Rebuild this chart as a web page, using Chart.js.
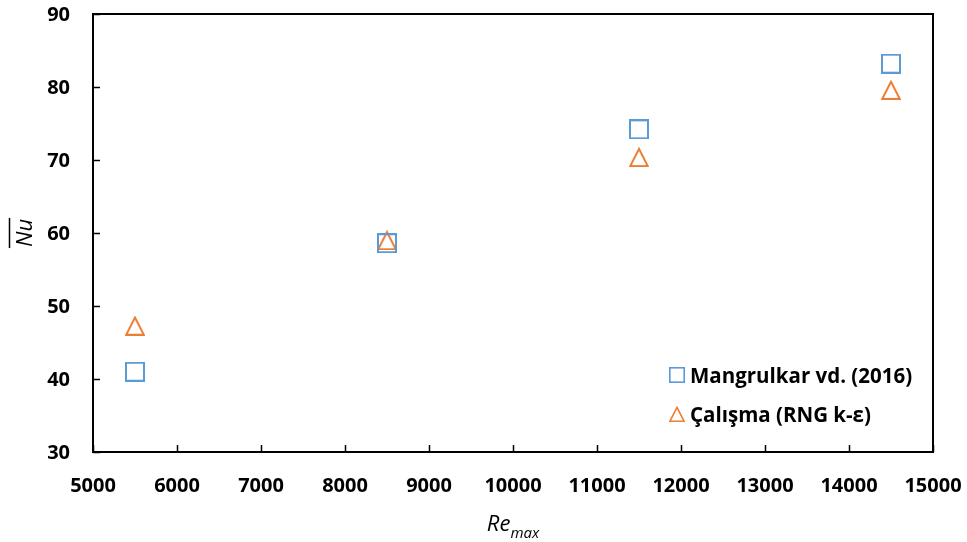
<!DOCTYPE html>
<html>
<head>
<meta charset="utf-8">
<script src="https://cdn.jsdelivr.net/npm/chart.js@4.4.1/dist/chart.umd.min.js"></script>
<style>
  html, body { margin: 0; padding: 0; background: #fff; }
  #wrap { width: 967px; height: 542px; position: relative; }
</style>
</head>
<body>
<div id="wrap"><canvas id="c"></canvas></div>
<script>
// Reynolds numbers and mean Nusselt numbers
const reValues = [5500, 8500, 11500, 14500];
const nuMangrulkar = [41.0, 58.6, 74.2, 83.2];
const nuCalisma = [47.3, 59.0, 70.4, 79.6];
const seriesLabels = ['Mangrulkar vd. (2016)', 'Çalışma (RNG k-ε)'];
const xTicks = [5000, 6000, 7000, 8000, 9000, 10000, 11000, 12000, 13000, 14000, 15000];
const yTicks = [30, 40, 50, 60, 70, 80, 90];

const BLUE = '#5B9BD5';
const ORANGE = '#ED7D31';
const FONT = '"Open Sans", "DejaVu Sans", sans-serif';
const TICK_FONT = 'bold 20px ' + FONT;

function squareMarker(size, color, lw) {
  const c = document.createElement('canvas');
  c.width = size; c.height = size;
  const g = c.getContext('2d');
  g.strokeStyle = color; g.lineWidth = lw;
  g.strokeRect(lw / 2, lw / 2, size - lw, size - lw);
  return c;
}
function triangleMarker(size, color, lw) {
  const c = document.createElement('canvas');
  c.width = size; c.height = size;
  const g = c.getContext('2d');
  g.strokeStyle = color; g.lineWidth = lw; g.lineJoin = 'miter';
  g.beginPath();
  g.moveTo(size / 2, lw * 0.9);
  g.lineTo(size - lw * 0.6, size - lw / 2);
  g.lineTo(lw * 0.6, size - lw / 2);
  g.closePath();
  g.stroke();
  return c;
}

const sqBig = squareMarker(20, BLUE, 2);
const triBig = triangleMarker(20, ORANGE, 2);
const sqSmall = squareMarker(16, BLUE, 1.6);
const triSmall = triangleMarker(16, ORANGE, 1.6);

function toPoints(ys) { return reValues.map((x, i) => ({ x: x, y: ys[i] })); }

// Frame, inward tick marks, tick labels, axis titles and in-plot legend
const decorations = {
  id: 'decorations',
  afterDraw(chart) {
    const { ctx, chartArea: a, scales } = chart;
    ctx.save();
    ctx.strokeStyle = '#000';
    ctx.lineWidth = 2;
    ctx.strokeRect(a.left, a.top, a.right - a.left, a.bottom - a.top);

    ctx.lineWidth = 1.5;
    ctx.beginPath();
    xTicks.forEach(v => {
      const px = Math.round(scales.x.getPixelForValue(v)) + 0.5;
      ctx.moveTo(px, a.bottom); ctx.lineTo(px, a.bottom - 7);
    });
    yTicks.forEach(v => {
      const py = Math.round(scales.y.getPixelForValue(v)) + 0.5;
      ctx.moveTo(a.left, py); ctx.lineTo(a.left + 7, py);
    });
    ctx.stroke();

    // tick labels
    ctx.fillStyle = '#000';
    ctx.font = TICK_FONT;
    ctx.textBaseline = 'alphabetic';
    ctx.textAlign = 'center';
    xTicks.forEach(v => {
      ctx.fillText(String(v), scales.x.getPixelForValue(v), a.bottom + 40);
    });
    ctx.textAlign = 'right';
    yTicks.forEach(v => {
      ctx.fillText(String(v), a.left - 23, scales.y.getPixelForValue(v) + 7);
    });

    // x-axis title: Re with subscript "max"
    ctx.textAlign = 'left';
    ctx.font = 'italic 22px ' + FONT;
    const reW = ctx.measureText('Re').width;
    ctx.font = 'italic 15px ' + FONT;
    const subW = ctx.measureText('max').width;
    const xStart = 513 - (reW + subW) / 2;
    ctx.font = 'italic 22px ' + FONT;
    ctx.fillText('Re', xStart, 531);
    ctx.font = 'italic 15px ' + FONT;
    ctx.fillText('max', xStart + reW, 538);

    // y-axis title: Nu with overline, rotated
    ctx.save();
    ctx.translate(32, 233);
    ctx.rotate(-Math.PI / 2);
    ctx.font = 'italic 22px ' + FONT;
    ctx.textAlign = 'center';
    const nuW = ctx.measureText('Nu').width;
    ctx.fillText('Nu', 0, 0);
    ctx.lineWidth = 1.5;
    ctx.beginPath();
    ctx.moveTo(-nuW / 2 - 1, -22.5); ctx.lineTo(nuW / 2 + 1, -22.5);
    ctx.stroke();
    ctx.restore();

    // legend
    ctx.font = 'bold 20.5px ' + FONT;
    ctx.textAlign = 'left';
    ctx.textBaseline = 'alphabetic';
    ctx.drawImage(sqSmall, 669, 367);
    ctx.fillText(seriesLabels[0], 690, 383);
    ctx.drawImage(triSmall, 669, 406);
    ctx.fillText(seriesLabels[1], 690, 422);
    ctx.restore();
  }
};

new Chart(document.getElementById('c'), {
  type: 'scatter',
  data: {
    datasets: [
      { label: seriesLabels[0], data: toPoints(nuMangrulkar), pointStyle: sqBig, pointRadius: 10, pointHoverRadius: 10 },
      { label: seriesLabels[1], data: toPoints(nuCalisma), pointStyle: triBig, pointRadius: 10, pointHoverRadius: 10 }
    ]
  },
  options: {
    responsive: true,
    maintainAspectRatio: false,
    animation: false,
    events: [],
    layout: { padding: { top: 14, right: 34, left: 0, bottom: 0 } },
    plugins: { legend: { display: false }, tooltip: { enabled: false } },
    scales: {
      x: {
        type: 'linear', min: 5000, max: 15000,
        afterBuildTicks(s) { s.ticks = xTicks.map(v => ({ value: v })); },
        afterFit(s) { s.height = 90; },
        grid: { display: false, drawTicks: false },
        border: { display: false },
        ticks: { display: false }
      },
      y: {
        type: 'linear', min: 30, max: 90,
        afterBuildTicks(s) { s.ticks = yTicks.map(v => ({ value: v })); },
        afterFit(s) { s.width = 93; },
        grid: { display: false, drawTicks: false },
        border: { display: false },
        ticks: { display: false }
      }
    }
  },
  plugins: [decorations]
});
</script>
</body>
</html>
